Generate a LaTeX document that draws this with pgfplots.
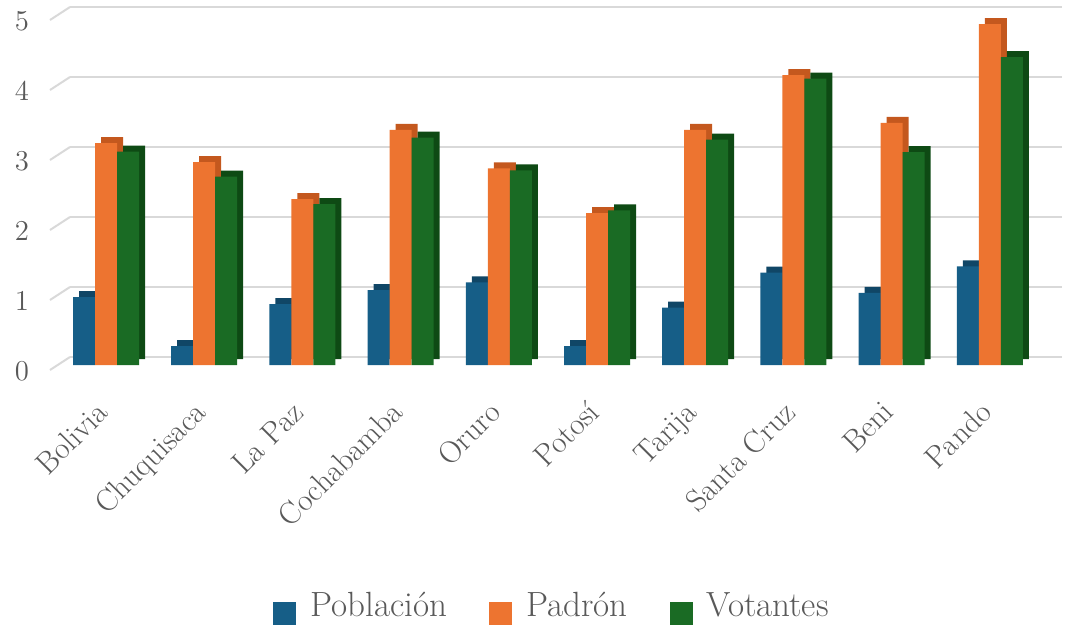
\documentclass[border=0pt]{standalone}
\usepackage{pgfplots}
\usepackage{pgfplotstable}
\pgfplotsset{compat=1.18}
\definecolor{cblue}{RGB}{22,94,135}
\definecolor{cblued}{RGB}{16,70,102}
\definecolor{corange}{RGB}{237,116,48}
\definecolor{coranged}{RGB}{196,88,30}
\definecolor{cgreen}{RGB}{26,107,36}
\definecolor{cgreend}{RGB}{14,74,20}
\definecolor{textgray}{RGB}{89,89,89}
\definecolor{gridgray}{RGB}{217,217,217}
\pgfplotstableread{
x name pob pad vot
0 Bolivia 0.97 3.17 3.05
1 Chuquisaca 0.27 2.90 2.69
2 LaPaz 0.87 2.37 2.30
3 Cochabamba 1.07 3.36 3.25
4 Oruro 1.18 2.81 2.78
5 Potosi 0.27 2.17 2.21
6 Tarija 0.82 3.36 3.22
7 SantaCruz 1.32 4.14 4.09
8 Beni 1.03 3.46 3.04
9 Pando 1.41 4.87 4.40
}\datatable
\begin{document}
\begin{tikzpicture}
\path[use as bounding box] (0,0) rectangle (533.5pt,314pt);
\begin{axis}[
  at={(35pt,135.5pt)}, anchor=south west,
  scale only axis, width=496pt, height=175pt,
  xmin=-0.367, xmax=9.735, ymin=0, ymax=5,
  ybar, bar width=11pt,
  axis line style={draw=none},
  ymajorgrids, major grid style={gridgray, line width=1pt},
  ytick={0,1,2,3,4,5},
  xtick={0,...,9},
  xticklabels={Bolivia,Chuquisaca,La Paz,Cochabamba,Oruro,Potosí,Tarija,Santa Cruz,Beni,Pando},
  major tick length=0pt, tick style={draw=none},
  every tick label/.append style={text=textgray, font=\fontsize{14.5}{17}\selectfont},
  yticklabel style={anchor=east, xshift=-17pt, yshift=-7pt},
  xticklabel style={rotate=45, anchor=north east, inner sep=0pt, xshift=-18.85pt, yshift=-10.65pt,
    font=\fontsize{15.5}{18}\selectfont},
  legend columns=3,
  legend style={at={(0.487,-0.714)}, anchor=center, draw=none, fill=none,
    font=\fontsize{17.5}{20}\selectfont, text=textgray,
    /tikz/every odd column/.append style={column sep=5pt},
    /tikz/every even column/.append style={column sep=19pt}},
  legend image code/.code={\fill[#1] (0pt,-5.5pt) rectangle (11.5pt,6pt);},
  clip=false,
]
\pgfplotsinvokeforeach{0,1,2,3,4,5}{
  \draw[gridgray, line width=1pt] (axis cs:-0.367,#1) -- ++(-10pt,-6.5pt);
}
\addplot[forget plot, fill=cblued, draw=none, bar shift=-11pt, xshift=3pt, yshift=-1pt] table[x=x,y=pob]{\datatable};
\addplot[forget plot, fill=coranged, draw=none, bar shift=0pt, xshift=3pt, yshift=-1pt] table[x=x,y=pad]{\datatable};
\addplot[forget plot, fill=cgreend, draw=none, bar shift=11pt, xshift=3pt, yshift=-1pt] table[x=x,y=vot]{\datatable};
\addplot[fill=cblue, draw=none, bar shift=-11pt, yshift=-4pt] table[x=x,y=pob]{\datatable};
\addplot[fill=corange, draw=none, bar shift=0pt, yshift=-4pt] table[x=x,y=pad]{\datatable};
\addplot[fill=cgreen, draw=none, bar shift=11pt, yshift=-4pt] table[x=x,y=vot]{\datatable};
\legend{Población,Padrón,Votantes}
\end{axis}
\end{tikzpicture}
\end{document}
